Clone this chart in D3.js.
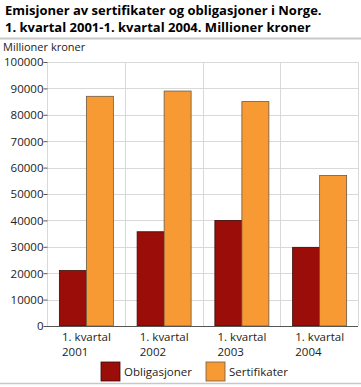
<!DOCTYPE html>
<html><head><meta charset="utf-8">
<script src="https://cdn.jsdelivr.net/npm/d3@7"></script>
<style>
body{margin:0;background:#fff;}
svg text{font-family:"Open Sans",sans-serif;}
</style></head>
<body>
<svg id="c" width="361" height="387"></svg>
<script>
const categories = ["1. kvartal 2001","1. kvartal 2002","1. kvartal 2003","1. kvartal 2004"];
const seriesNames = ["Obligasjoner","Sertifikater"];
const obligasjoner = [21000, 35700, 40000, 29800];
const sertifikater = [87000, 89000, 85000, 57000];
const yTicks = [0,10000,20000,30000,40000,50000,60000,70000,80000,90000,100000];
const colors = ["#9b0d08","#f79a33"];

const svg = d3.select("#c");
const L = 47, R = 358, T = 62, B = 326;
const x = d3.scaleBand().domain(categories).range([L, R]).padding(0);
const x1 = d3.scaleBand().domain(seriesNames).range([0, 54]);
const y = d3.scaleLinear().domain([0,100000]).range([B, T]);

// title
const title = svg.append("text").attr("font-weight","bold").attr("font-size","13px").attr("fill","#000");
title.append("tspan").attr("x",5).attr("y",15).text("Emisjoner av sertifikater og obligasjoner i Norge.");
title.append("tspan").attr("x",5).attr("y",32).text("1. kvartal 2001-1. kvartal 2004. Millioner kroner");
svg.append("line").attr("x1",0).attr("x2",361).attr("y1",38.5).attr("y2",38.5).attr("stroke","#c8c8c8").attr("stroke-width",2);
svg.append("text").attr("x",3).attr("y",51).attr("font-size","11px").attr("fill","#222").text("Millioner kroner");

// grid
svg.append("g").selectAll("line").data(yTicks).join("line")
  .attr("x1",L).attr("x2",R).attr("y1",d=>Math.round(y(d))+0.5).attr("y2",d=>Math.round(y(d))+0.5)
  .attr("stroke","#d9d9d9");
svg.append("g").selectAll("line").data(categories.concat(["end"])).join("line")
  .attr("x1",(d,i)=>i<categories.length?Math.round(x(d))+0.5:R+0.5)
  .attr("x2",(d,i)=>i<categories.length?Math.round(x(d))+0.5:R+0.5)
  .attr("y1",T).attr("y2",B).attr("stroke","#d9d9d9");

// y axis
const yAxis = d3.axisLeft(y).tickValues(yTicks).tickSize(4).tickFormat(d=>d);
const ga = svg.append("g").attr("transform",`translate(${L+0.5},0)`).call(yAxis);
ga.select(".domain").remove();
ga.selectAll(".tick line").attr("stroke","#555");
ga.selectAll(".tick text").attr("font-size","11.5px").attr("fill","#222").attr("x",-4).attr("dy","0.34em").attr("font-family","Open Sans, sans-serif");

// bars
const data = categories.map((c,i)=>({c, vals:[obligasjoner[i], sertifikater[i]]}));
const grp = svg.append("g").selectAll("g").data(data).join("g")
  .attr("transform",d=>`translate(${x(d.c)+x.bandwidth()/2-27},0)`);
grp.selectAll("rect").data(d=>d.vals.map((v,j)=>({s:seriesNames[j],v,j}))).join("rect")
  .attr("x",d=>x1(d.s)+0.5).attr("width",x1.bandwidth())
  .attr("y",d=>y(d.v)).attr("height",d=>B-y(d.v))
  .attr("fill",d=>colors[d.j]).attr("stroke",d=>d.j===0?"#3a0a05":"#6d5a48").attr("stroke-width",0.8);

// baseline
svg.append("line").attr("x1",L).attr("x2",R).attr("y1",B+0.5).attr("y2",B+0.5).attr("stroke","#555");

// x labels
const xl = svg.append("g").selectAll("text").data(categories).join("text")
  .attr("font-size","11.5px").attr("fill","#222");
xl.append("tspan").attr("x",d=>x(d)+15).attr("y",341).text(d=>d.split(" ").slice(0,2).join(" "));
xl.append("tspan").attr("x",d=>x(d)+15).attr("y",356).text(d=>d.split(" ")[2]);

// legend
const lg = svg.append("g").selectAll("g").data(seriesNames).join("g")
  .attr("transform",(d,i)=>`translate(${i===0?101:206},362)`);
lg.append("rect").attr("width",19).attr("height",19).attr("fill",(d,i)=>colors[i])
  .attr("stroke",(d,i)=>i===0?"#3a0a05":"#6d5a48").attr("stroke-width",0.8);
lg.append("text").attr("x",23).attr("y",14).attr("font-size","11.5px").attr("fill","#222").text(d=>d);

svg.append("line").attr("x1",0).attr("x2",361).attr("y1",383.5).attr("y2",383.5).attr("stroke","#c8c8c8").attr("stroke-width",1.5);
</script>
</body></html>
